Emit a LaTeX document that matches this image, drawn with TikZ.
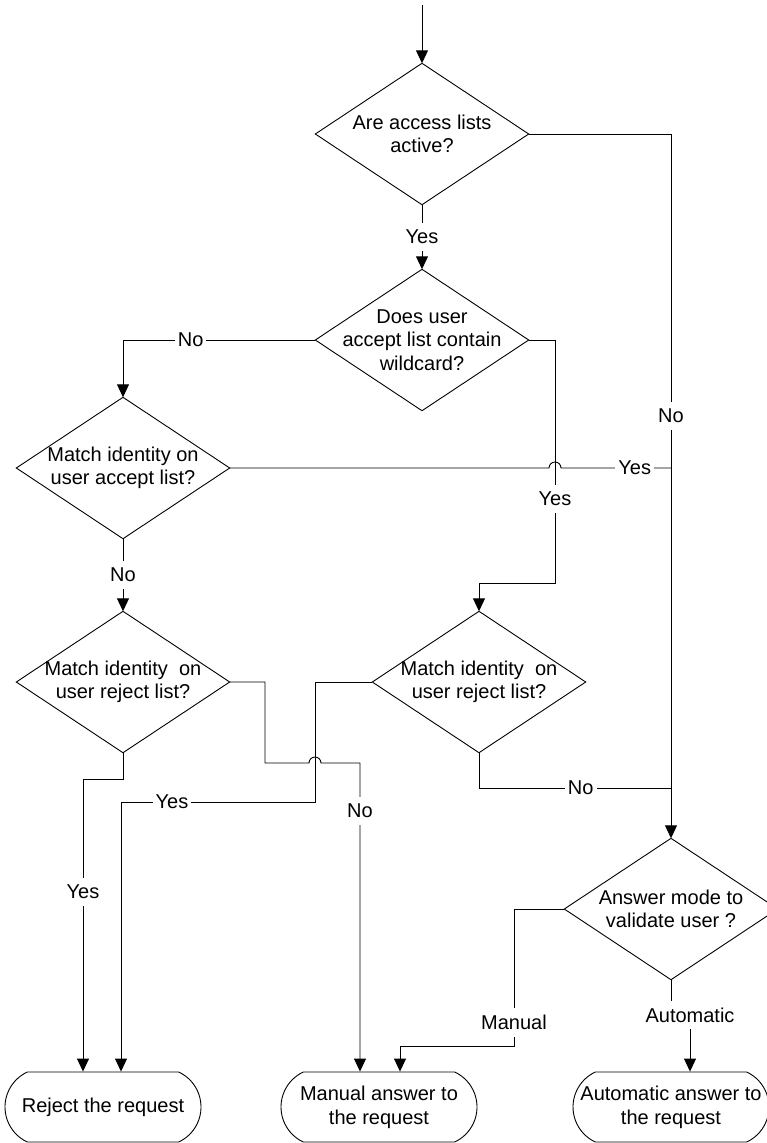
\documentclass[tikz,border=0pt]{standalone}
\usepackage{fontspec}
\setmainfont{Liberation Sans}
\usetikzlibrary{arrows.meta,calc,shapes.misc}
\begin{document}
\begin{tikzpicture}[x=1pt,y=-1pt,
  line/.style={draw=black, line width=0.9pt},
  arr/.style={line, -{Triangle[length=13pt,width=12pt]}},
  decision/.style={draw=none, minimum width=213pt, minimum height=141pt,
    inner sep=0pt, align=center, font=\fontsize{20}{23.5}\selectfont},
  terminal/.style={draw, line width=0.9pt, rounded rectangle,
    rounded rectangle arc length=130, minimum width=196pt, minimum height=70pt,
    inner sep=0pt, align=center, font=\fontsize{20}{24}\selectfont},
  lbl/.style={fill=white, inner xsep=3pt, inner ysep=7pt,
    font=\fontsize{20}{24}\selectfont}
]
\useasboundingbox (0,0) rectangle (767,1143);
\clip (0,0) rectangle (767,1143);

% decisions
\node[decision] (d1) at (422,134) {Are access lists\\active?};
\node[decision] (d2) at (422,340) {Does user\\accept list contain\\wildcard?};
\node[decision] (d3) at (123,468) {Match identity on\\user accept list?};
\node[decision] (d5) at (123,682) {Match identity\ \ on\\user reject list?};
\node[decision] (d4) at (479,682) {Match identity\ \ on\\user reject list?};
\node[decision] (d6) at (671,909) {Answer mode to\\validate user ?};
\foreach \d in {d1,d2,d3,d4,d5,d6}
  \draw[line] (\d.north) -- (\d.east) -- (\d.south) -- (\d.west) -- cycle;

% outcomes
\node[terminal] (t1) at (103,1107) {Reject the request};
\node[terminal] (t2) at (379,1107) {Manual answer to\\the request};
\node[terminal] (t3) at (671,1107) {Automatic answer to\\the request};

\coordinate (start) at (422,5);

% connectors
\draw[arr] (start) -- (d1.north);
\draw[arr] (d1.south) -- node[lbl] {Yes} (d2.north);
\draw[arr] (d1.east) -- (d1.east -| d6.north) -- node[lbl,pos=0.4] {No} (d6.north);

\draw[arr] (d2.west) -- node[lbl,pos=0.648] {No} (d2.west -| d3.north) -- (d3.north);
\draw[arr] (d2.east) -- (555,340) -- node[lbl,pos=0.654] {Yes} (555,583)
  -- (d4.north |- 0,583) -- (d4.north);

\draw[line] (d3.east) -- (549,468) arc[start angle=180,end angle=360,radius=6]
  -- node[lbl,pos=0.67] {Yes} (671,468);
\draw[arr] (d3.south) -- node[lbl] {No} (d5.north);

\draw[arr] (d5.east) -- (265,682) -- (265,763) -- (309,763)
  arc[start angle=180,end angle=360,radius=6] -- (360,763)
  -- node[lbl,pos=0.155] {No} ($(t2.north)+(-19,0)$);
\draw[arr] (d5.south) -- (123,779) -- (83,779)
  -- node[lbl,pos=0.386] {Yes} ($(t1.north)+(-20,0)$);

\draw[arr] (d4.west) -- (315,682) -- (315,802)
  -- node[lbl,pos=0.737] {Yes} (121,802) -- ($(t1.north)+(18,0)$);
\draw[line] (d4.south) -- (479,788) -- node[lbl,pos=0.53] {No} (671,788);

\draw[arr] (d6.west) -- (514,909) -- node[lbl,pos=0.83] {Manual} (514,1046)
  -- (400,1046) -- ($(t2.north)+(21,0)$);
\draw[arr] (d6.south) -- (671,1015) -- (690,1015) node[lbl] {Automatic}
  -- ($(t3.north)+(19,0)$);
\end{tikzpicture}
\end{document}
